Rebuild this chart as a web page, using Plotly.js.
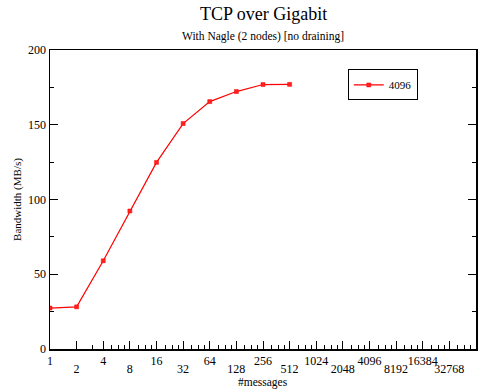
<!DOCTYPE html>
<html>
<head>
<meta charset="utf-8">
<script src="https://cdn.plot.ly/plotly-3.0.1.min.js"></script>
<style>
  html, body { margin: 0; padding: 0; background: #fff; }
  #chart { width: 488px; height: 390px; }
</style>
</head>
<body>
<div id="chart"></div>
<script>
// Message counts (powers of two) and measured bandwidth for 4096-byte messages
const messages = [1, 2, 4, 8, 16, 32, 64, 128, 256, 512];
const bandwidth = [27.4, 28.2, 59.0, 92.3, 124.8, 150.8, 165.5, 172.2, 176.9, 177.0];
const seriesName = '4096';

// Axis tick labels: labels alternate between an upper and a lower row
const upperTicks = [1, 4, 16, 64, 256, 1024, 4096, 16384, 65536];
const lowerTicks = [2, 8, 32, 128, 512, 2048, 8192, 32768];

// Minor ticks between powers of two
const minorTicks = [3, 5, 6, 7];
for (let a = 8; a < 65536; a *= 2) {
  minorTicks.push(a * 1.25, a * 1.5, a * 1.75);
}

const serif = 'Liberation Serif, Times New Roman, serif';
const xRange = [0, Math.log10(65536)];

const trace = {
  x: messages,
  y: bandwidth,
  name: seriesName,
  type: 'scatter',
  mode: 'lines+markers',
  line: { color: '#ff0000', width: 1.2 },
  marker: { symbol: 'square', size: 4, color: '#ff2020', line: { color: '#ff0000', width: 0.5 } }
};

const layout = {
  width: 488,
  height: 390,
  margin: { l: 50, r: 12, t: 50, b: 41 },
  paper_bgcolor: '#ffffff',
  plot_bgcolor: '#ffffff',
  font: { family: serif, size: 12, color: '#000' },
  showlegend: true,
  legend: {
    x: 0.699, y: 0.935, xanchor: 'left', yanchor: 'top',
    bgcolor: '#ffffff', bordercolor: '#000', borderwidth: 1,
    font: { family: serif, size: 11 },
    itemwidth: 30,
    tracegroupgap: 0
  },
  annotations: [
    { text: 'TCP over Gigabit', xref: 'paper', yref: 'paper', x: 0.5, y: 1, yanchor: 'middle', yshift: 36,
      showarrow: false, font: { family: serif, size: 18 } },
    { text: 'With Nagle (2 nodes) [no draining]', xref: 'paper', yref: 'paper', x: 0.5, y: 1, yanchor: 'middle', yshift: 14,
      showarrow: false, font: { family: serif, size: 11.5 } },
    { text: '#messages', xref: 'paper', yref: 'paper', x: 0.5, y: 0, yanchor: 'middle', yshift: -33,
      showarrow: false, font: { family: serif, size: 11.5 } }
  ],
  xaxis: {
    type: 'log',
    range: xRange,
    tickmode: 'array',
    tickvals: upperTicks,
    ticktext: upperTicks.map(String),
    ticks: 'inside',
    ticklen: 8,
    tickwidth: 1,
    tickcolor: '#000',
    showline: true,
    linecolor: '#000',
    linewidth: 1.5,
    mirror: true,
    showgrid: false,
    zeroline: false,
    tickfont: { family: serif, size: 12 },
    minor: { tickmode: 'array', tickvals: minorTicks, ticks: 'inside', ticklen: 4, tickcolor: '#000', tickwidth: 1 }
  },
  xaxis2: {
    type: 'log',
    range: xRange,
    overlaying: 'x',
    anchor: 'y',
    side: 'bottom',
    tickmode: 'array',
    tickvals: lowerTicks,
    ticktext: lowerTicks.map(String),
    ticks: 'inside',
    ticklen: 8,
    tickwidth: 1,
    tickcolor: '#000',
    ticklabelstandoff: 11,
    showline: false,
    showgrid: false,
    zeroline: false,
    tickfont: { family: serif, size: 12 }
  },
  yaxis: {
    range: [0, 200],
    tickmode: 'linear',
    tick0: 0,
    dtick: 50,
    ticks: 'inside',
    ticklen: 8,
    tickwidth: 1,
    tickcolor: '#000',
    showline: true,
    linecolor: '#000',
    linewidth: 1.5,
    mirror: 'ticks',
    showgrid: false,
    zeroline: false,
    tickfont: { family: serif, size: 12 },
    minor: { dtick: 25, ticks: 'inside', ticklen: 4, tickcolor: '#000', tickwidth: 1 },
    title: { text: 'Bandwidth (MB/s)', font: { family: serif, size: 11 }, standoff: 4 }
  }
};

// Invisible trace on the second x axis so its ticks are drawn
const ghost = { x: [], y: [], xaxis: 'x2', yaxis: 'y', showlegend: false, hoverinfo: 'skip', type: 'scatter' };

Plotly.newPlot('chart', [trace, ghost], layout, { staticPlot: true, displayModeBar: false });
</script>
</body>
</html>
